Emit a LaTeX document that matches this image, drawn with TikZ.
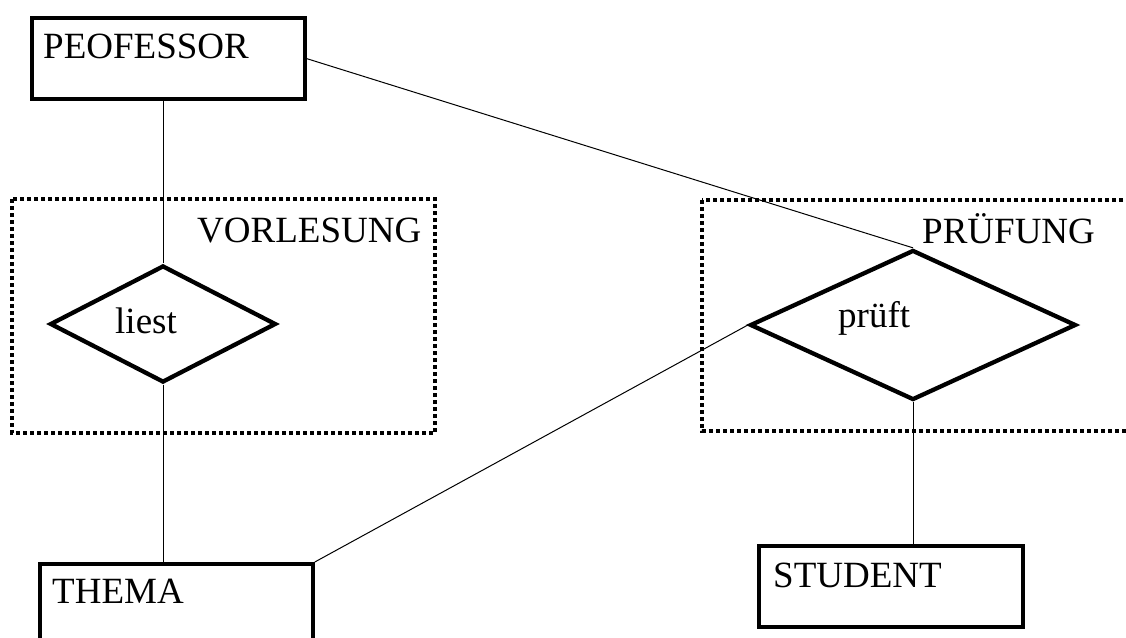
\documentclass[tikz,border=0pt]{standalone}
\usepackage{fontspec}
\setmainfont{Liberation Serif}
\usetikzlibrary{shapes.geometric}
\begin{document}
\begin{tikzpicture}[x=1pt,y=-1pt,
  entity/.style={draw,line width=4.3pt,inner sep=0pt,anchor=north west},
  relation/.style={draw,fill=white,shape=diamond,line width=4.3pt,inner sep=0pt},
  group/.style={line width=4.3pt,dash pattern=on 4pt off 3pt},
  link/.style={line width=1pt},
  lbl/.style={anchor=base west,inner sep=0pt,font=\fontsize{37}{44}\selectfont}]
  \useasboundingbox (0,0) rectangle (1126,637);
  \clip (0,0) rectangle (1126,637);

  % aggregation frames
  \draw[group] (12,199) rectangle (435,433);
  \draw[group] (702,200) rectangle (1140,431);

  % entities
  \node[entity,minimum width=273pt,minimum height=81pt] (prof) at (29.5,16) {};
  \node[entity,minimum width=273pt,minimum height=100pt] (thema) at (37.5,562) {};
  \node[entity,minimum width=264pt,minimum height=81pt] (student) at (757,544) {};

  % relationships
  \node[relation,minimum width=226pt,minimum height=117pt] (liest) at (163,324) {};
  \node[relation,minimum width=326pt,minimum height=150pt] (pruef) at (913,325) {};

  % connectors
  \draw[link] (liest.north |- prof.south) -- (liest.north);
  \draw[link] (liest.south) -- (liest.south |- thema.north);
  \draw[link] (prof.east) -- (pruef.north);
  \draw[link] (thema.north east) -- (pruef.west);
  \draw[link] (pruef.south) -- (pruef.south |- student.north);

  % texts
  \node[lbl] (tprof) at (43,58) {PEOFESSOR};
  \node[lbl] (tvorl) at (197,242) {VORLESUNG};
  \node[lbl] (tliest) at (115,333) {liest};
  \node[lbl] (tthema) at (52,603) {THEMA};
  \node[lbl] (tpruef) at (922,243) {PRÜFUNG};
  \node[lbl] (tprueft) at (838,327) {prüft};
  \node[lbl] (tstud) at (773,587) {STUDENT};
\end{tikzpicture}
\end{document}
